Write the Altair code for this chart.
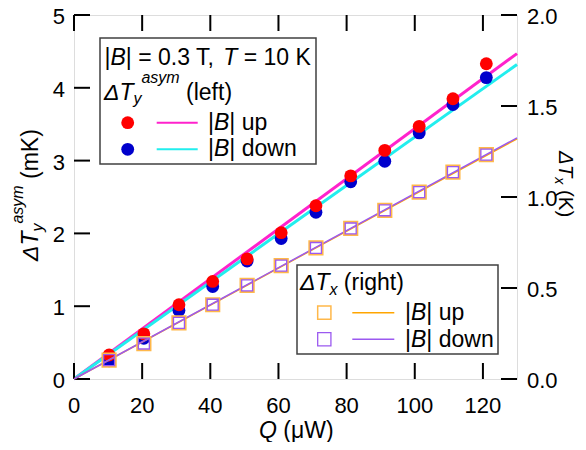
import altair as alt
import pandas as pd

# ---------------- data ----------------
Q = [10.3, 20.5, 30.8, 40.7, 50.8, 60.8, 71.0, 81.2, 91.2, 101.3, 111.2, 121.0]
dTy_up = [0.33, 0.62, 1.02, 1.34, 1.65, 2.01, 2.38, 2.79, 3.14, 3.47, 3.85, 4.33]
dTy_down = [0.25, 0.56, 0.94, 1.27, 1.62, 1.93, 2.29, 2.71, 2.99, 3.38, 3.77, 4.14]
dTx_up = [0.104, 0.195, 0.308, 0.408, 0.514, 0.623, 0.720, 0.827, 0.927, 1.027, 1.137, 1.233]
dTx_down = [0.104, 0.195, 0.308, 0.408, 0.514, 0.623, 0.720, 0.827, 0.927, 1.027, 1.137, 1.233]

fit_q = [0, 130]
fit_y_up = [0, 4.47]
fit_y_down = [0, 4.32]
fit_x_up = [0, 1.32]
fit_x_down = [0, 1.325]

x_ticks = [0, 20, 40, 60, 80, 100, 120]
x_labels = ["0", "20", "40", "60", "80", "100", "120"]
yl_ticks = [0, 1, 2, 3, 4, 5]
yl_labels = ["0", "1", "2", "3", "4", "5"]
yr_ticks = [0.0, 0.5, 1.0, 1.5, 2.0]
yr_labels = ["0.0", "0.5", "1.0", "1.5", "2.0"]

# ---------------- styling / layout ----------------
FONT = "Liberation Sans"
W, H = 443, 364
OX, OY = 74, 15          # page position of plot origin (top-left)
RED, BLUE = "#FF0000", "#0000CC"
MAG, CYAN = "#FF22CC", "#22EEEE"
ORANGE, PURPLE = "#FFA500", "#9B59F0"
ORANGE_SQ = "#FFB84A"
LFS = 22  # tick label font size

xs = alt.Scale(domain=[0, 130], nice=False, zero=False)
yl = alt.Scale(domain=[0, 5], nice=False, zero=False)
yr = alt.Scale(domain=[0, 2], nice=False, zero=False)

pts = pd.DataFrame({"Q": Q, "up": dTy_up, "down": dTy_down, "xup": dTx_up, "xdown": dTx_down})
fits = pd.DataFrame({"Q": fit_q, "up": fit_y_up, "down": fit_y_down, "xup": fit_x_up, "xdown": fit_x_down})
one = pd.DataFrame({"a": [0]})

XN = alt.X("Q:Q", scale=xs, axis=None)

base_f = alt.Chart(fits)
base_p = alt.Chart(pts)

mag_line = base_f.mark_line(color=MAG, strokeWidth=3).encode(x=XN, y=alt.Y("up:Q", scale=yl, axis=None))
cyan_line = base_f.mark_line(color=CYAN, strokeWidth=3).encode(x=XN, y=alt.Y("down:Q", scale=yl, axis=None))
blue_pts = base_p.mark_circle(size=165, color=BLUE, opacity=1).encode(x=XN, y=alt.Y("down:Q", scale=yl, axis=None))
red_pts = base_p.mark_circle(size=165, color=RED, opacity=1).encode(x=XN, y=alt.Y("up:Q", scale=yl, axis=None))

tick_df_x = pd.DataFrame({"v": x_ticks, "lab": x_labels})
tick_df_yl = pd.DataFrame({"v": yl_ticks, "lab": yl_labels})
tick_df_yr = pd.DataFrame({"v": yr_ticks, "lab": yr_labels})
TK = 16
top_ticks = alt.Chart(tick_df_x).mark_rule(color="black", strokeWidth=2).encode(
    x=alt.X("v:Q", scale=xs, axis=None), y=alt.value(0), y2=alt.value(TK))
bot_ticks = alt.Chart(tick_df_x).mark_rule(color="black", strokeWidth=2).encode(
    x=alt.X("v:Q", scale=xs, axis=None), y=alt.value(H), y2=alt.value(H - TK))
left_ticks = alt.Chart(tick_df_yl).mark_rule(color="black", strokeWidth=2).encode(
    y=alt.Y("v:Q", scale=yl, axis=None), x=alt.value(0), x2=alt.value(TK))

x_lab = alt.Chart(tick_df_x).mark_text(font=FONT, fontSize=LFS, align="center", baseline="alphabetic",
                                       color="black").encode(
    x=alt.X("v:Q", scale=xs, axis=None), y=alt.value(412.5 - OY), text="lab:N")
yl_lab = alt.Chart(tick_df_yl).mark_text(font=FONT, fontSize=LFS, align="right", baseline="alphabetic",
                                         dy=9, color="black").encode(
    y=alt.Y("v:Q", scale=yl, axis=None), x=alt.value(-9), text="lab:N")

left = alt.layer(mag_line, cyan_line, blue_pts, red_pts, left_ticks, top_ticks, bot_ticks, x_lab, yl_lab)

orange_line = base_f.mark_line(color=ORANGE, strokeWidth=1.5).encode(x=XN, y=alt.Y("xup:Q", scale=yr, axis=None))
purple_line = base_f.mark_line(color=PURPLE, strokeWidth=1.5).encode(x=XN, y=alt.Y("xdown:Q", scale=yr, axis=None))
orange_sq = base_p.mark_point(shape="square", filled=False, size=175, color=ORANGE_SQ, strokeWidth=2, opacity=1).encode(
    x=XN, y=alt.Y("xup:Q", scale=yr, axis=None))
purple_sq = base_p.mark_point(shape="square", filled=False, size=120, color=PURPLE, strokeWidth=1.3, opacity=1).encode(
    x=XN, y=alt.Y("xdown:Q", scale=yr, axis=None))
right_ticks = alt.Chart(tick_df_yr).mark_rule(color="black", strokeWidth=2).encode(
    y=alt.Y("v:Q", scale=yr, axis=None), x=alt.value(W), x2=alt.value(W - TK))
yr_lab = alt.Chart(tick_df_yr).mark_text(font=FONT, fontSize=LFS, align="left", baseline="alphabetic",
                                         dy=9, color="black").encode(
    y=alt.Y("v:Q", scale=yr, axis=None), x=alt.value(W + 10), text="lab:N")

right = alt.layer(orange_line, purple_line, orange_sq, purple_sq, right_ticks, yr_lab)

# ---------------- text helpers (layout in page pixels) ----------------
WID = {' ': .278, '|': .26, 'B': .667, '=': .584, '.': .278, 'T': .611, ',': .278, 'K': .667,
       '(': .333, ')': .333, 'l': .222, 'e': .556, 'f': .278, 't': .278, 'r': .333, 'i': .222,
       'g': .556, 'h': .556, 'u': .556, 'p': .556, 'd': .556, 'o': .556, 'w': .722, 'n': .556,
       'a': .556, 's': .5, 'y': .5, 'm': .833, 'x': .5, 'Δ': .668, 'μ': .576, 'W': .944, 'Q': .778}
for c in "0123456789":
    WID[c] = .556


def tw(s, size):
    return sum(WID.get(c, .556) for c in s) * size


def txt(x, y, s, size=23, italic=False, angle=0):
    return alt.Chart(one).mark_text(
        text=s, font=FONT, fontSize=size, fontStyle="italic" if italic else "normal",
        angle=angle, align="left", baseline="alphabetic", color="black"
    ).encode(x=alt.value(x - OX), y=alt.value(y - OY))


def seq(pieces, x0, y0, angle=0):
    # pieces: (text, italic, size, shift_down)
    if angle == 0:
        d, n = (1, 0), (0, 1)
    elif angle == 270:
        d, n = (0, -1), (1, 0)
    else:
        d, n = (0, 1), (-1, 0)
    out = []
    pos = 0.0
    for s, it, size, sh in pieces:
        lead = len(s) - len(s.lstrip(" "))
        core = s.strip(" ")
        p = pos + tw(" " * lead, size)
        out.append(txt(x0 + d[0] * p + n[0] * sh, y0 + d[1] * p + n[1] * sh, core, size, it, angle))
        pos += tw(s, size)
    return out


def rect(x1, y1, x2, y2):
    return alt.Chart(one).mark_rect(fill="white", stroke="#404040", strokeWidth=1.5).encode(
        x=alt.value(x1 - OX), x2=alt.value(x2 - OX), y=alt.value(y1 - OY), y2=alt.value(y2 - OY))


def hline(x1, x2, y, color, w):
    return alt.Chart(one).mark_rule(color=color, strokeWidth=w).encode(
        x=alt.value(x1 - OX), x2=alt.value(x2 - OX), y=alt.value(y - OY))


def marker(x, y, **kw):
    return alt.Chart(one).mark_point(opacity=1, **kw).encode(x=alt.value(x - OX), y=alt.value(y - OY))


deco = []
# legend 1
deco.append(rect(100, 38, 316, 164))
deco += seq([("|", False, 23, 0), ("B", True, 23, 0), ("| = 0.3 T,", False, 23, 0),
             (" T", True, 23, 0), (" = 10 K", False, 23, 0)], 104.5, 65)
deco += seq([("ΔT", True, 23, 0), ("y", True, 16, 4), ("asym", True, 16, -17),
             (" (left)", False, 23, 0)], 104, 99.5)
deco.append(marker(127.7, 122.7, shape="circle", filled=True, size=165, color=RED))
deco.append(hline(156.7, 197.7, 122.7, MAG, 2))
deco += seq([("|", False, 23, 0), ("B", True, 23, 0), ("| up", False, 23, 0)], 208, 130)
deco.append(marker(127.7, 149.3, shape="circle", filled=True, size=165, color=BLUE))
deco.append(hline(156.7, 197.7, 149.3, CYAN, 2))
deco += seq([("|", False, 23, 0), ("B", True, 23, 0), ("| down", False, 23, 0)], 208, 156)

# legend 2
deco.append(rect(297, 265, 498, 354))
deco += seq([("ΔT", True, 23, 0), ("x", True, 16, 4.5), (" (right)", False, 23, 0)], 300, 290)
deco.append(marker(324.3, 312.7, shape="square", filled=False, size=175, color=ORANGE_SQ, strokeWidth=1.5))
deco.append(hline(352.3, 394.3, 312.7, ORANGE, 1.5))
deco += seq([("|", False, 23, 0), ("B", True, 23, 0), ("| up", False, 23, 0)], 405, 320)
deco.append(marker(324.3, 339.3, shape="square", filled=False, size=175, color=PURPLE, strokeWidth=1.3))
deco.append(hline(352.3, 394.3, 339.3, PURPLE, 1.5))
deco += seq([("|", False, 23, 0), ("B", True, 23, 0), ("| down", False, 23, 0)], 405, 346.5)

# axis titles
deco += seq([("Q", True, 23, 0), (" (μW)", False, 23, 0)], 259, 437.5)
deco += seq([("ΔT", True, 23, 0), ("y", True, 16, 4.5), ("asym", True, 16, -15),
             (" (mK)", False, 23, 0)], 38, 261, angle=270)
deco += seq([("ΔT", True, 20.5, 0), ("x", True, 14, 4), (" (K)", False, 20.5, 0)], 559.3, 151, angle=90)

chart = alt.layer(left, right, *deco).resolve_scale(y="independent").properties(
    width=W, height=H,
    autosize=alt.AutoSizeParams(type="none"),
    padding={"left": OX - 8, "top": OY - 8, "right": 586 - 8 - OX - W, "bottom": 450 - 8 - OY - H},
).configure_view(stroke="black", strokeWidth=2).configure(background="white")

chart.save("out.html", embed_options={"renderer": "svg", "actions": False})
